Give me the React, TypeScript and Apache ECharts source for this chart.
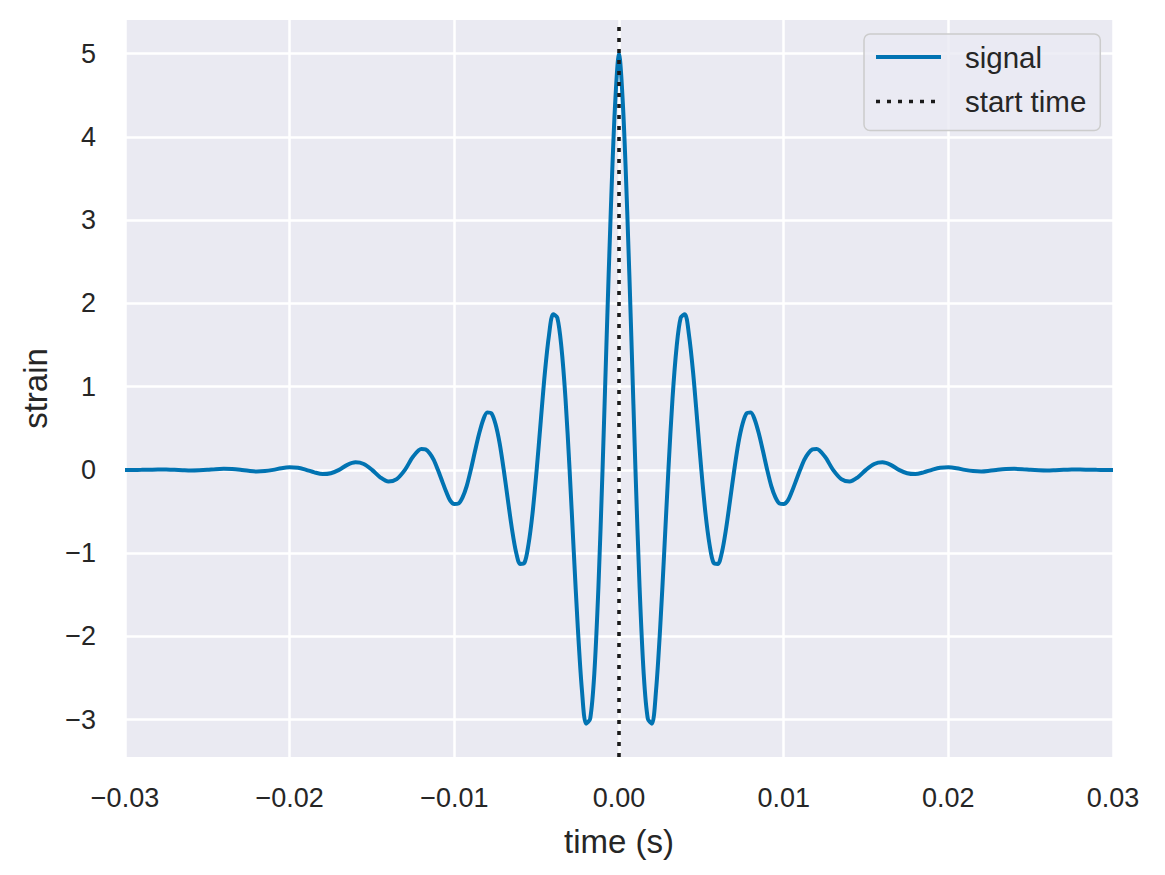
import React, { useEffect, useRef } from "react";
import * as echarts from "echarts";

// time samples (s): tails every 0.5 ms, centre every 0.25 ms
const timeLeftTail: number[] = [
  -0.03, -0.0295, -0.029, -0.0285, -0.028, -0.0275, -0.027, -0.0265, -0.026, -0.0255,
  -0.025, -0.0245, -0.024, -0.0235, -0.023, -0.0225, -0.022, -0.0215, -0.021, -0.0205,
  -0.02, -0.0195, -0.019, -0.0185, -0.018, -0.0175, -0.017, -0.0165, -0.016, -0.0155,
  -0.015, -0.0145, -0.014, -0.0135, -0.013, -0.0125,
];
const strainLeftTail: number[] = [
  -0.002, -0.001, 0.0, 0.002, 0.004, 0.003, 0.0, -0.004, -0.007, -0.005,
  0.0, 0.008, 0.012, 0.009, 0.0, -0.012, -0.02, -0.015, 0.0, 0.02,
  0.03, 0.025, 0.0, -0.03, -0.05, -0.04, 0.0, 0.06, 0.09, 0.07,
  0.0, -0.09, -0.14, -0.11, 0.0, 0.16,
];

const timeCentre: number[] = [
  -0.012, -0.01175, -0.0115, -0.01125, -0.011, -0.01075, -0.0105, -0.01025,
  -0.01, -0.00975, -0.0095, -0.00925, -0.009, -0.00875, -0.0085, -0.00825,
  -0.008, -0.00775, -0.0075, -0.00725, -0.007, -0.00675, -0.0065, -0.00625,
  -0.006, -0.00575, -0.0055, -0.00525, -0.005, -0.00475, -0.0045, -0.00425,
  -0.004, -0.00375, -0.0035, -0.00325, -0.003, -0.00275, -0.0025, -0.00225,
  -0.002, -0.00175, -0.0015, -0.00125, -0.001, -0.00075, -0.0005, -0.00025,
  0,
  0.00025, 0.0005, 0.00075, 0.001, 0.00125, 0.0015, 0.00175, 0.002,
  0.00225, 0.0025, 0.00275, 0.003, 0.00325, 0.0035, 0.00375, 0.004,
  0.00425, 0.0045, 0.00475, 0.005, 0.00525, 0.0055, 0.00575, 0.006,
  0.00625, 0.0065, 0.00675, 0.007, 0.00725, 0.0075, 0.00775, 0.008,
  0.00825, 0.0085, 0.00875, 0.009, 0.00925, 0.0095, 0.00975, 0.01,
  0.01025, 0.0105, 0.01075, 0.011, 0.01125, 0.0115, 0.01175, 0.012,
];
const strainCentre: number[] = [
  0.25, 0.245, 0.2, 0.12, 0.0, -0.13, -0.26, -0.37,
  -0.41, -0.405, -0.33, -0.195, 0.0, 0.22, 0.43, 0.6,
  0.69, 0.68, 0.55, 0.32, 0.0, -0.36, -0.71, -0.99,
  -1.13, -1.12, -0.9, -0.52, 0.0, 0.59, 1.17, 1.62,
  1.87, 1.83, 1.48, 0.86, 0.0, -0.97, -1.9, -2.65,
  -3.05, -2.99, -2.45, -1.41, 0.0, 1.59, 3.1, 4.34,
  5.0,
  4.34, 3.1, 1.59, 0.0, -1.41, -2.45, -2.99, -3.05,
  -2.65, -1.9, -0.97, 0.0, 0.86, 1.48, 1.83, 1.87,
  1.62, 1.17, 0.59, 0.0, -0.52, -0.9, -1.12, -1.13,
  -0.99, -0.71, -0.36, 0.0, 0.32, 0.55, 0.68, 0.69,
  0.6, 0.43, 0.22, 0.0, -0.195, -0.33, -0.405, -0.41,
  -0.37, -0.26, -0.13, 0.0, 0.12, 0.2, 0.245, 0.25,
];

const timeRightTail: number[] = [
  0.0125, 0.013, 0.0135, 0.014, 0.0145, 0.015, 0.0155, 0.016, 0.0165, 0.017,
  0.0175, 0.018, 0.0185, 0.019, 0.0195, 0.02, 0.0205, 0.021, 0.0215, 0.022,
  0.0225, 0.023, 0.0235, 0.024, 0.0245, 0.025, 0.0255, 0.026, 0.0265, 0.027,
  0.0275, 0.028, 0.0285, 0.029, 0.0295, 0.03,
];
const strainRightTail: number[] = [
  0.16, 0.0, -0.11, -0.14, -0.09, 0.0, 0.07, 0.09, 0.06, 0.0,
  -0.04, -0.05, -0.03, 0.0, 0.025, 0.03, 0.02, 0.0, -0.015, -0.02,
  -0.012, 0.0, 0.009, 0.012, 0.008, 0.0, -0.005, -0.007, -0.004, 0.0,
  0.003, 0.004, 0.002, 0.0, -0.001, -0.002,
];

const startTime = 0;
const yTickValues: number[] = [-3, -2, -1, 0, 1, 2, 3, 4, 5];
const xTickValues: number[] = [-0.03, -0.02, -0.01, 0, 0.01, 0.02, 0.03];
const Y_MIN = -3.45;
const Y_MAX = 5.405;

const fmtMinus = (s: string) => s.replace("-", "\u2212");

export default function App() {
  const ref = useRef<HTMLDivElement>(null);
  useEffect(() => {
    if (!ref.current) return;
    const chart = echarts.init(ref.current, null, { renderer: "svg" });
    const textColor = "#262626";
    const font = "'Liberation Sans', Arial, sans-serif";
    const times = [...timeLeftTail, ...timeCentre, ...timeRightTail];
    const strains = [...strainLeftTail, ...strainCentre, ...strainRightTail];
    chart.setOption({
      animation: false,
      backgroundColor: "#ffffff",
      textStyle: { fontFamily: font },
      grid: {
        left: 125,
        top: 20,
        width: 988,
        height: 737,
        show: true,
        backgroundColor: "#EAEAF2",
        borderWidth: 0,
      },
      legend: {
        left: 864,
        top: 34,
        orient: "vertical",
        itemWidth: 65,
        itemHeight: 14,
        itemGap: 14.5,
        padding: [8, 14, 14, 10],
        backgroundColor: "rgba(234,234,242,0.8)",
        borderColor: "#cccccc",
        borderWidth: 1.5,
        borderRadius: 6,
        itemStyle: { opacity: 0 },
        textStyle: {
          fontSize: 29.5,
          color: textColor,
          fontFamily: font,
          padding: [0, 0, 0, 19],
        },
        data: [
          { name: "signal", lineStyle: { width: 4 } },
          { name: "start time", lineStyle: { width: 3.6 } },
        ],
      },
      xAxis: {
        type: "value",
        min: -0.03,
        max: 0.03,
        interval: 0.01,
        name: "time (s)",
        nameLocation: "middle",
        nameGap: 68,
        nameTextStyle: { fontSize: 33, color: textColor, fontFamily: font },
        axisLine: { show: false },
        axisTick: { show: false },
        axisLabel: {
          fontSize: 27,
          color: textColor,
          margin: 27,
          customValues: xTickValues,
          formatter: (v: number) => fmtMinus(v.toFixed(2)),
        },
        splitLine: { show: true, lineStyle: { color: "#ffffff", width: 2.5 } },
      },
      yAxis: {
        type: "value",
        min: Y_MIN,
        max: Y_MAX,
        name: "strain",
        nameLocation: "middle",
        nameGap: 73,
        nameRotate: 90,
        nameTextStyle: { fontSize: 33, color: textColor, fontFamily: font },
        axisLine: { show: false },
        axisTick: { show: false, customValues: yTickValues },
        axisLabel: {
          fontSize: 27,
          color: textColor,
          margin: 29,
          customValues: yTickValues,
          formatter: (v: number) => fmtMinus(String(Math.round(v))),
        },
        splitLine: { show: true, lineStyle: { color: "#ffffff", width: 2.5 } },
      },
      series: [
        {
          name: "signal",
          type: "line",
          data: times.map((t, i) => [t, strains[i]]),
          showSymbol: false,
          symbol: "none",
          smooth: 0.3,
          lineStyle: { color: "#0173B2", width: 4 },
          itemStyle: { color: "#0173B2" },
        },
        {
          name: "start time",
          type: "line",
          data: [
            [startTime, Y_MIN],
            [startTime, Y_MAX],
          ],
          showSymbol: false,
          symbol: "none",
          lineStyle: { color: "#1a1a1a", width: 3.6, type: [4, 7] },
          itemStyle: { color: "#1a1a1a" },
        },
      ],
    });
    return () => chart.dispose();
  }, []);
  return (
    <div
      ref={ref}
      style={{ position: "fixed", left: 0, top: 0, width: 1165, height: 875 }}
    />
  );
}
